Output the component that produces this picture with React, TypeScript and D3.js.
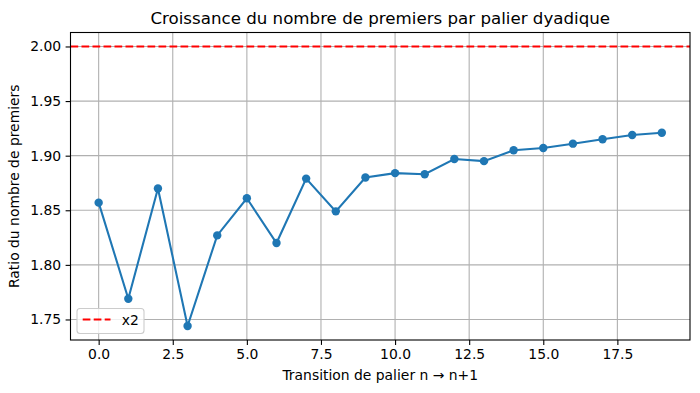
import React, { useEffect, useRef } from 'react';
import * as d3 from 'd3';

// transitions n -> n+1 and the ratio of prime counts
const transitions = d3.range(0, 20);
const ratios = [1.857, 1.769, 1.870, 1.744, 1.827, 1.861, 1.820, 1.879, 1.849, 1.880,
    1.884, 1.883, 1.897, 1.895, 1.905, 1.907, 1.911, 1.915, 1.919, 1.921];
const xTicks = [0, 2.5, 5, 7.5, 10, 12.5, 15, 17.5];
const yTicks = [1.75, 1.80, 1.85, 1.90, 1.95, 2.00];
const refLine = 2;

const App = () => {
    const svgRef = useRef<SVGSVGElement>(null);

    useEffect(() => {
        const svg = d3.select(svgRef.current);
        svg.selectAll('*').remove();

        const width = 700;
        const height = 393;
        const margin = { top: 32.5, right: 10, bottom: 53, left: 70.5 };
        const font = 'DejaVu Sans, sans-serif';
        const fs = 13.9;

        const x = d3.scaleLinear()
            .domain([-0.95, 19.95])
            .range([margin.left, width - margin.right]);
        const yMin = Math.min(...ratios, refLine);
        const yMax = Math.max(...ratios, refLine);
        const pad = (yMax - yMin) * 0.05;
        const y = d3.scaleLinear()
            .domain([yMin - pad, yMax + pad])
            .range([height - margin.bottom, margin.top]);

        svg.append('rect')
            .attr('width', width).attr('height', height).attr('fill', 'white');

        // grid
        const g = svg.append('g');
        g.selectAll('.vgrid').data(xTicks).join('line')
            .attr('x1', d => x(d)).attr('x2', d => x(d))
            .attr('y1', margin.top).attr('y2', height - margin.bottom)
            .attr('stroke', '#b0b0b0').attr('stroke-width', 1.1);
        g.selectAll('.hgrid').data(yTicks).join('line')
            .attr('y1', d => y(d)).attr('y2', d => y(d))
            .attr('x1', margin.left).attr('x2', width - margin.right)
            .attr('stroke', '#b0b0b0').attr('stroke-width', 1.1);

        // x2 reference
        svg.append('line')
            .attr('x1', margin.left).attr('x2', width - margin.right)
            .attr('y1', y(refLine)).attr('y2', y(refLine))
            .attr('stroke', 'red').attr('stroke-width', 2.08)
            .attr('stroke-dasharray', '7.7,3.3');

        const line = d3.line<number>()
            .x((_, i) => x(transitions[i]))
            .y(d => y(d));
        svg.append('path')
            .datum(ratios)
            .attr('d', line)
            .attr('fill', 'none')
            .attr('stroke', '#1f77b4')
            .attr('stroke-width', 2.08);
        svg.selectAll('.pt').data(ratios).join('circle')
            .attr('cx', (_, i) => x(transitions[i]))
            .attr('cy', d => y(d))
            .attr('r', 4.2)
            .attr('fill', '#1f77b4');

        // spines
        svg.append('rect')
            .attr('x', margin.left).attr('y', margin.top)
            .attr('width', width - margin.left - margin.right)
            .attr('height', height - margin.top - margin.bottom)
            .attr('fill', 'none').attr('stroke', 'black').attr('stroke-width', 1.1);

        // axes
        const xAxis = svg.append('g')
            .attr('transform', `translate(0,${height - margin.bottom})`)
            .call(d3.axisBottom(x).tickValues(xTicks).tickFormat(d3.format('.1f')).tickSize(4.9).tickPadding(4.5));
        const yAxis = svg.append('g')
            .attr('transform', `translate(${margin.left},0)`)
            .call(d3.axisLeft(y).tickValues(yTicks).tickFormat(d3.format('.2f')).tickSize(4.9).tickPadding(4.5));
        [xAxis, yAxis].forEach(a => {
            a.select('.domain').remove();
            a.selectAll('text').attr('font-family', font).attr('font-size', fs).attr('fill', 'black');
            a.selectAll('line').attr('stroke', 'black').attr('stroke-width', 1.1);
        });

        svg.append('text')
            .attr('x', (margin.left + width - margin.right) / 2)
            .attr('y', 24)
            .attr('text-anchor', 'middle')
            .attr('font-family', font).attr('font-size', 16.67)
            .text('Croissance du nombre de premiers par palier dyadique');

        svg.append('text')
            .attr('x', (margin.left + width - margin.right) / 2)
            .attr('y', 380)
            .attr('text-anchor', 'middle')
            .attr('font-family', font).attr('font-size', fs)
            .text('Transition de palier n → n+1');

        svg.append('text')
            .attr('transform', `translate(19,${(margin.top + height - margin.bottom) / 2}) rotate(-90)`)
            .attr('text-anchor', 'middle')
            .attr('font-family', font).attr('font-size', fs)
            .text('Ratio du nombre de premiers');

        // legend
        const lg = svg.append('g');
        lg.append('rect')
            .attr('x', 77).attr('y', 308.5).attr('width', 67).attr('height', 25)
            .attr('rx', 3)
            .attr('fill', 'white').attr('fill-opacity', 0.8)
            .attr('stroke', '#cccccc').attr('stroke-width', 1.1);
        lg.append('line')
            .attr('x1', 82.7).attr('x2', 110.5).attr('y1', 319.5).attr('y2', 319.5)
            .attr('stroke', 'red').attr('stroke-width', 2.08)
            .attr('stroke-dasharray', '7.7,3.3');
        lg.append('text')
            .attr('x', 121.7).attr('y', 324.5)
            .attr('font-family', font).attr('font-size', fs)
            .text('x2');
    }, []);

    return <svg ref={svgRef} width={700} height={393} style={{ position: 'absolute', left: 0, top: 0 }}></svg>;
};

export default App;
